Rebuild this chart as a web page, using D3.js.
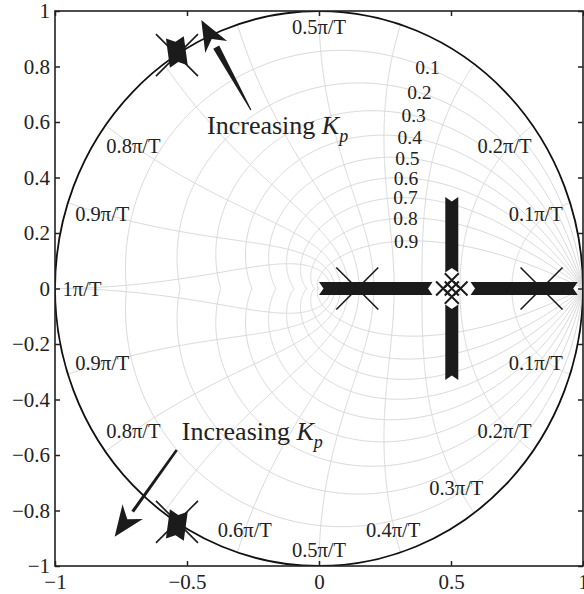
<!DOCTYPE html>
<html>
<head>
<meta charset="utf-8">
<script src="https://cdn.jsdelivr.net/npm/d3@7"></script>
<style>
  body { margin: 0; background: #fff; }
  svg { display: block; font-family: "Liberation Serif", "Times New Roman", serif; }
  .grid path { fill: none; stroke: #d9d9d9; stroke-width: 1; }
  .axis path, .axis line { stroke: #222; stroke-width: 1.5; }
  .axis text { font-size: 21px; fill: #222; font-family: "Liberation Serif", "Times New Roman", serif; }
  .glabel { font-size: 20.5px; fill: #222; }
  .zlabel { font-size: 19.5px; fill: #222; }
</style>
</head>
<body>
<div id="chart"></div>
<script>
// axis ticks
const xTicks = [-1, -0.5, 0, 0.5, 1];
const yTicks = [-1, -0.8, -0.6, -0.4, -0.2, 0, 0.2, 0.4, 0.6, 0.8, 1];

// zgrid: damping ratios and natural frequencies (multiples of pi/T)
const dampingRatios = [0.1, 0.2, 0.3, 0.4, 0.5, 0.6, 0.7, 0.8, 0.9];
const natFreqs = [0.1, 0.2, 0.3, 0.4, 0.5, 0.6, 0.7, 0.8, 0.9, 1];
const upperFreqLabels = [0.1, 0.2, 0.5, 0.8, 0.9, 1];
const lowerFreqLabels = [0.1, 0.2, 0.3, 0.4, 0.5, 0.6, 0.8, 0.9];

// open loop poles
const poles = [[0.145, 0], [0.843, 0], [-0.538, 0.841], [-0.538, -0.841]];

// root locus branches (start, end)
const realBranchLeft = [[0.0, 0], [0.43, 0]];
const realBranchRight = [[0.98, 0], [0.574, 0]];
const imagBranchUp = [[0.503, 0.058], [0.503, 0.33]];
const imagBranchDown = [[0.503, -0.058], [0.503, -0.33]];
const complexBranchUp = [[-0.546, 0.905], [-0.531, 0.8]];
const complexBranchDown = [[-0.546, -0.905], [-0.531, -0.8]];
const branches = [realBranchLeft, realBranchRight, imagBranchUp, imagBranchDown];

// sparse gain samples around the breakaway point
const breakawayPoints = [[0.47, 0], [0.503, 0], [0.536, 0], [0.503, 0.03], [0.503, -0.03]];

// "Increasing Kp" annotations (text anchor, arrow tail, arrow tip)
const gainTextAt = [[-0.424, 0.556], [-0.52, -0.546]];
const gainArrowTail = [[-0.258, 0.643], [-0.539, -0.582]];
const gainArrowTip = [[-0.446, 0.968], [-0.774, -0.895]];

const width = 584, height = 594;
const margin = { top: 11, right: 1, bottom: 28, left: 55 };

const x = d3.scaleLinear().domain([-1, 1]).range([margin.left, width - margin.right]);
const y = d3.scaleLinear().domain([-1, 1]).range([height - margin.bottom, margin.top]);

const svg = d3.select('#chart').append('svg')
  .attr('width', width)
  .attr('height', height);

svg.append('clipPath').attr('id', 'plotclip')
  .append('rect')
  .attr('x', x(-1)).attr('y', y(1))
  .attr('width', x(1) - x(-1)).attr('height', y(-1) - y(1));

const plot = svg.append('g').attr('clip-path', 'url(#plotclip)');

const line = d3.line().x(d => x(d[0])).y(d => y(d[1]));

function zPoint(zeta, wn) {
  const r = Math.exp(-zeta * wn);
  const th = wn * Math.sqrt(1 - zeta * zeta);
  return [r * Math.cos(th), r * Math.sin(th)];
}

// grid
const grid = plot.append('g').attr('class', 'grid');

dampingRatios.forEach(zeta => {
  const wmax = Math.PI / Math.sqrt(1 - zeta * zeta);
  const pts = d3.range(0, 301).map(i => zPoint(zeta, wmax * i / 300));
  grid.append('path').attr('d', line(pts));
  grid.append('path').attr('d', line(pts.map(p => [p[0], -p[1]])));
});

natFreqs.forEach(f => {
  const wn = f * Math.PI;
  const pts = d3.range(0, 201).map(i => zPoint(i / 200, wn));
  grid.append('path').attr('d', line(pts));
  grid.append('path').attr('d', line(pts.map(p => [p[0], -p[1]])));
});

// unit circle
plot.append('ellipse')
  .attr('cx', x(0)).attr('cy', y(0))
  .attr('rx', x(1) - x(0)).attr('ry', y(-1) - y(0))
  .attr('fill', 'none')
  .attr('stroke', '#111')
  .attr('stroke-width', 1.8);

// damping labels, centred on each spiral
const labelWn = 0.35 * Math.PI;
dampingRatios.forEach(zeta => {
  const p = zPoint(zeta, labelWn);
  svg.append('text')
    .attr('class', 'zlabel')
    .attr('x', x(p[0])).attr('y', y(p[1]))
    .attr('dy', '0.35em')
    .attr('text-anchor', 'middle')
    .text(zeta);
});

// natural frequency labels, just inside the unit circle
function freqLabel(f, sign) {
  const a = sign * f * Math.PI;
  const t = svg.append('text')
    .attr('class', 'glabel')
    .attr('text-anchor', 'middle')
    .attr('dy', '0.35em')
    .text(f + 'π/T');
  const w = t.node().getComputedTextLength();
  const c = Math.cos(a), s = Math.sin(a);
  const off = Math.abs(c) * (w / 2 + 1) + Math.abs(s) * 9;
  const px = x(0.975 * c) - c * off;
  const py = y(0.975 * s) + s * off;
  t.attr('x', px).attr('y', py);
}
upperFreqLabels.forEach(f => freqLabel(f, 1));
lowerFreqLabels.forEach(f => freqLabel(f, -1));

// root locus: dense 'x' markers merge into a band with notched ends
const locus = plot.append('g');
const ink = '#1b1b1b';

function band(b, hw) {
  const ax = x(b[0][0]), ay = y(b[0][1]), bx = x(b[1][0]), by = y(b[1][1]);
  const len = Math.hypot(bx - ax, by - ay);
  const ux = (bx - ax) / len, uy = (by - ay) / len;
  const nx = -uy, ny = ux;
  const d = 0, a = 4.5;   // arms reach the end point, notch cut 4.5px inward
  const pts = [
    [ax - ux * d + nx * hw, ay - uy * d + ny * hw],
    [bx + nx * hw, by + ny * hw],
    [bx - ux * a, by - uy * a],
    [bx - nx * hw, by - ny * hw],
    [ax - nx * hw, ay - ny * hw],
    [ax + ux * a, ay + uy * a]
  ];
  locus.append('path')
    .attr('d', 'M' + pts.map(p => p.join(',')).join('L') + 'Z')
    .attr('fill', ink);
}

function xMark(g, p, h, sw) {
  const cx = x(p[0]), cy = y(p[1]);
  g.append('path')
    .attr('d', `M${cx - h},${cy - h}L${cx + h},${cy + h}M${cx - h},${cy + h}L${cx + h},${cy - h}`)
    .attr('stroke', ink)
    .attr('stroke-width', sw)
    .attr('fill', 'none');
}

branches.forEach(b => band(b, 6.5));
[complexBranchUp, complexBranchDown].forEach(b => band(b, 9));

breakawayPoints.forEach(p => xMark(locus, p, 7, 2));

poles.forEach(p => xMark(locus, p, 21, 1.6));

// annotations
gainArrowTail.forEach((tail, i) => {
  const tip = gainArrowTip[i];
  const x0 = x(tail[0]), y0 = y(tail[1]), x1 = x(tip[0]), y1 = y(tip[1]);
  const len = Math.hypot(x1 - x0, y1 - y0);
  const ux = (x1 - x0) / len, uy = (y1 - y0) / len;
  const nx = -uy, ny = ux;
  const L = 31, hw = 12.5;
  const bx = x1 - ux * L, by = y1 - uy * L;
  const w0 = i === 0 ? 0.6 : 1.3, w1 = i === 0 ? 3.4 : 1.6;
  svg.append('path')
    .attr('d', `M${x0 + nx * w0},${y0 + ny * w0}L${bx + nx * w1},${by + ny * w1}L${bx - nx * w1},${by - ny * w1}L${x0 - nx * w0},${y0 - ny * w0}Z`)
    .attr('fill', ink);
  const nxb = x1 - ux * L * 0.7, nyb = y1 - uy * L * 0.7;
  svg.append('path')
    .attr('d', `M${x1},${y1}L${bx + nx * hw},${by + ny * hw}L${nxb},${nyb}L${bx - nx * hw},${by - ny * hw}Z`)
    .attr('fill', ink);
});

gainTextAt.forEach(p => {
  const t = svg.append('text')
    .attr('x', x(p[0])).attr('y', y(p[1]))
    .attr('font-size', 26)
    .attr('fill', '#222');
  t.append('tspan').text('Increasing ');
  t.append('tspan').attr('font-style', 'italic').text('K');
  t.append('tspan').attr('font-style', 'italic').attr('font-size', 18).attr('dy', 8).text('p');
});

// axes (ticks inside, box on)
const fmt = d3.format('~g');
svg.append('g').attr('class', 'axis')
  .attr('transform', `translate(0,${y(-1)})`)
  .call(d3.axisBottom(x).tickValues(xTicks).tickFormat(fmt).tickSizeInner(-5).tickSizeOuter(0).tickPadding(8))
  .call(g => g.select('.domain').remove());
svg.append('g').attr('class', 'axis')
  .attr('transform', `translate(${x(-1)},0)`)
  .call(d3.axisLeft(y).tickValues(yTicks).tickFormat(fmt).tickSizeInner(-5).tickSizeOuter(0).tickPadding(5))
  .call(g => g.select('.domain').remove());
svg.append('g').attr('class', 'axis')
  .attr('transform', `translate(0,${y(1)})`)
  .call(d3.axisTop(x).tickValues(xTicks).tickFormat('').tickSizeInner(-5).tickSizeOuter(0))
  .call(g => g.select('.domain').remove());
svg.append('g').attr('class', 'axis')
  .attr('transform', `translate(${x(1)},0)`)
  .call(d3.axisRight(y).tickValues(yTicks).tickFormat('').tickSizeInner(-5).tickSizeOuter(0))
  .call(g => g.select('.domain').remove());

svg.append('rect')
  .attr('x', x(-1)).attr('y', y(1))
  .attr('width', x(1) - x(-1)).attr('height', y(-1) - y(1))
  .attr('fill', 'none')
  .attr('stroke', '#222')
  .attr('stroke-width', 1.6);
</script>
</body>
</html>
